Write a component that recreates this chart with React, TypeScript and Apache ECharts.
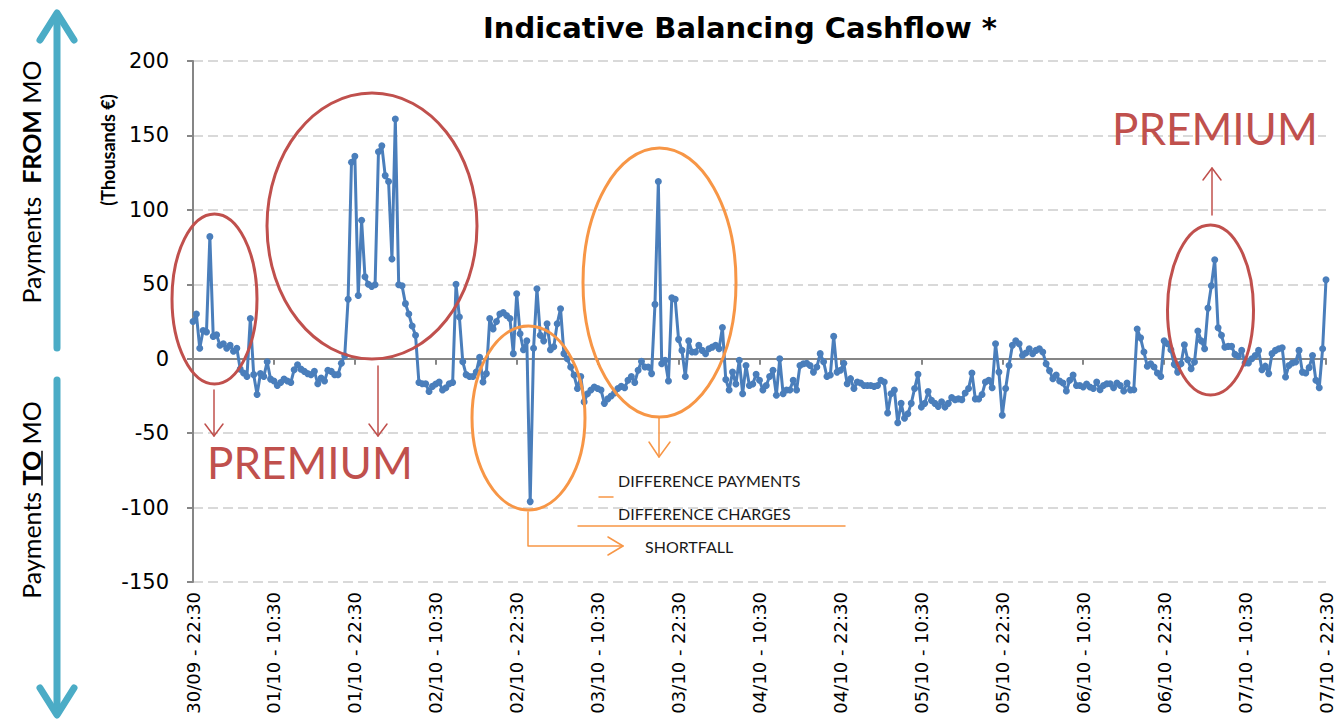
import React, { useEffect, useRef } from "react";
import * as echarts from "echarts";

const tickLabels = [
  "30/09 - 22:30", "01/10 - 10:30", "01/10 - 22:30", "02/10 - 10:30", "02/10 - 22:30",
  "03/10 - 10:30", "03/10 - 22:30", "04/10 - 10:30", "04/10 - 22:30", "05/10 - 10:30",
  "05/10 - 22:30", "06/10 - 10:30", "06/10 - 22:30", "07/10 - 10:30", "07/10 - 22:30",
];

const dayNames = ["30/09", "01/10", "02/10", "03/10", "04/10", "05/10", "06/10", "07/10"];

// Half-hourly indicative balancing cashflow (thousands €)
const cashflow = [
  25, 30, 7, 19, 18, 82, 15, 16, 9, 10,
  7, 9, 5, 7, -7, -9.6, -12, 27, -10.7, -24,
  -10, -12, -2, -13.7, -15, -18, -16, -13.7, -15, -16,
  -7.4, -4, -7, -8.5, -10, -10.7, -8.5, -16.8, -13, -15,
  -7.8, -8.5, -10.7, -10.7, -3, 2, 40, 132, 136, 42.5,
  93, 55, 50, 48.6, 49.7, 139, 143, 123, 119, 67,
  161, 49.7, 49, 37, 30, 22, 15.7, -16, -16.8, -16.8,
  -22, -18.6, -17, -15.7, -21, -19.5, -16.8, -16, 50, 28,
  -2, -10.7, -12, -12, -9, 1, -15.7, -10, 27, 20,
  25, 30, 31, 29, 27, 3.4, 43.7, 16.8, 6, 12,
  -96, 7, 47, 15.7, 12, 23.5, 6, 8, 23.5, 33.6,
  3.4, 0, -5.6, -11, -20, -12, -29, -23.5, -21, -19,
  -20, -21, -30, -27, -25, -23, -20, -18.6, -19.5, -14.5,
  -12, -16, -7.8, -1.8, -5.6, -5.6, -10, 36.5, 119, -3.4,
  -1, -15, 41, 40, 13, 5.6, -12, 12, 4.5, 4.5,
  9, 5.6, 3.4, 6.7, 7.8, 9, 6.7, 21, -14, -21,
  -9, -17, -1, -23.5, -4.5, -18, -17, -10.5, -14.5, -21,
  -18, -12, -7.8, -24.6, 0, -23.5, -21, -21, -14.5, -21,
  -4.5, -3.4, -3, -4.5, -9, -5.6, 3.4, -2, -12, -11,
  15, -9, -7.8, -3, -16.8, -13.4, -20, -15.7, -16.3, -18,
  -18, -18, -18.6, -18, -14.5, -15.7, -36.5, -23.5, -21, -43,
  -30, -40, -37, -30, -20, -10.5, -32.5, -30, -22, -28,
  -30, -32, -29, -32.5, -30, -26, -27.5, -27, -27.5, -23,
  -20, -9.6, -27, -27, -24, -15.7, -14.5, -19.5, 10, -9,
  -38, -20, -4.5, 9, 12, 10, 2.2, 3.8, 6.7, 3.4,
  5.6, 6.7, 4.5, -3.4, -8, -13.4, -11, -15, -16.3, -21.7,
  -14.5, -11, -18, -18, -19, -17, -19, -20, -15.7, -20.8,
  -18, -16.8, -16.8, -19.5, -16.3, -18, -21.7, -16.3, -21, -20.8,
  20, 14, 4.5, -5, -3.4, -5.6, -9.6, -12, 12, 10,
  6, -3.8, -9, -3.4, 9.4, -0.7, -6.7, -2.2, 18.6, 12,
  6.7, 34, 49, 66.5, 20.8, 15.7, 7.8, 8.3, 8.3, 2.9,
  1.6, 5.6, -2.9, -2.9, 0, 2.2, 5.6, -7.4, -5, -10,
  3.4, 5.6, 6.7, 7.4, -12.3, -4.5, -2.9, -2.2, 5.6, -9,
  -9.6, -6, 2.2, -14.5, -19.5, 6.7, 53,
];

const pad = (n: number) => (n < 10 ? "0" + n : String(n));
const categories = cashflow.map((_, i) => {
  const mins = 22 * 60 + 30 + 30 * i;
  const d = Math.floor(mins / 1440);
  const m = mins % 1440;
  return `${dayNames[d]} - ${pad(Math.floor(m / 60))}:${pad(m % 60)}`;
});

const RED = "#c0504d";
const ORANGE = "#f79646";
const CYAN = "#4bacc6";
const BLUE = "#4a7ebb";

export default function App() {
  const ref = useRef<HTMLDivElement>(null);
  useEffect(() => {
    if (!ref.current) return;
    const chart = echarts.init(ref.current, undefined, { renderer: "svg" });
    const ctx = document.createElement("canvas").getContext("2d")!;
    const measure = (t: string, font: string) => {
      ctx.font = font;
      return ctx.measureText(t).width;
    };
    const SIDE_FONT = "25px Lato";
    const SIDE_BOLD = "bold 25px Lato";
    const wP = measure("Payments ", SIDE_FONT);
    const wT = measure("TO", SIDE_BOLD);
    const wM = measure(" MO", SIDE_FONT);
    const toCenterY = 500;
    const toStart = toCenterY + (wP + wT + wM) / 2;
    const ulY1 = toStart - wP;
    const ulY2 = ulY1 - wT;

    const ell = (cx: number, cy: number, rx: number, ry: number, color: string) => ({
      type: "ellipse",
      z: 100,
      shape: { cx, cy, rx, ry },
      style: { fill: "none", stroke: color, lineWidth: 3 },
    });
    const pl = (points: number[][], color: string, w: number) => ({
      type: "polyline",
      z: 100,
      shape: { points },
      style: { fill: "none", stroke: color, lineWidth: w, lineCap: "round", lineJoin: "round" },
    });
    const premium = (x: number, y: number) => ({
      type: "text",
      z: 101,
      x,
      y,
      style: {
        text: "PREMIUM",
        fill: "#c0504d",
        font: "44px Lato",
        align: "left",
        verticalAlign: "middle",
        shadowColor: "rgba(235,130,130,1)",
        shadowBlur: 8,
      },
    });
    const note = (x: number, y: number, text: string) => ({
      type: "text",
      z: 101,
      x,
      y,
      style: {
        text,
        fill: "#1a1a1a",
        font: "16px Lato",
        align: "left",
        verticalAlign: "middle",
        shadowColor: "rgba(247,150,70,0.9)",
        shadowBlur: 3,
      },
    });
    chart.setOption({
      animation: false,
      grid: { left: 193, right: 10, top: 61, bottom: 146 },
      xAxis: [
        {
          type: "category",
          data: categories,
          boundaryGap: false,
          axisLine: { show: false, onZero: false },
          axisTick: { show: false },
          splitLine: { show: false },
          axisLabel: {
            interval: 23,
            rotate: 90,
            margin: 10,
            color: "#000",
            fontSize: 18,
            fontFamily: "DejaVu Sans",
            formatter: (_v: string, idx: number) => tickLabels[Math.round(idx / 24)] ?? "",
          },
        },
        {
          type: "category",
          data: categories,
          boundaryGap: false,
          position: "bottom",
          axisLine: { show: true, onZero: true, lineStyle: { color: "#868686", width: 2 } },
          axisTick: { show: true, interval: 23, length: 6, lineStyle: { color: "#868686", width: 2 } },
          axisLabel: { show: false },
          splitLine: { show: false },
        },
      ],
      yAxis: {
        type: "value",
        min: -150,
        max: 200,
        interval: 50,
        axisLine: { show: true, lineStyle: { color: "#868686", width: 2 } },
        axisTick: { show: true, length: 6, lineStyle: { color: "#868686", width: 2 } },
        axisLabel: { color: "#000", fontSize: 21, fontFamily: "DejaVu Sans", margin: 24 },
        splitLine: { show: true, lineStyle: { color: "#d9d9d9", width: 2, type: [10, 5] } },
      },
      series: [
        {
          type: "line",
          xAxisIndex: 0,
          data: cashflow,
          showAllSymbol: true,
          symbol: "circle",
          symbolSize: 7,
          itemStyle: { color: BLUE },
          lineStyle: { color: BLUE, width: 3 },
          z: 10,
        },
      ],
      graphic: [
        {
          type: "text",
          x: 740,
          y: 28,
          style: {
            text: "Indicative Balancing Cashflow *",
            font: "bold 29px 'DejaVu Sans'",
            fill: "#000",
            align: "center",
            verticalAlign: "middle",
          },
        },
        {
          type: "text",
          x: 108,
          y: 150,
          rotation: Math.PI / 2,
          style: {
            text: "(Thousands €)",
            font: "bold 18px Lato",
            fill: "#000",
            align: "center",
            verticalAlign: "middle",
          },
        },
        {
          type: "text",
          x: 31,
          y: 182,
          rotation: Math.PI / 2,
          style: {
            text: "{n|Payments  }{b|FROM}{n| MO}",
            align: "center",
            verticalAlign: "middle",
            rich: {
              n: { font: SIDE_FONT, fill: "#000" },
              b: { font: SIDE_BOLD, fill: "#000" },
            },
          },
        },
        {
          type: "text",
          x: 31,
          y: toCenterY,
          rotation: Math.PI / 2,
          style: {
            text: "{n|Payments }{b|TO}{n| MO}",
            align: "center",
            verticalAlign: "middle",
            rich: {
              n: { font: SIDE_FONT, fill: "#000" },
              b: { font: SIDE_BOLD, fill: "#000" },
            },
          },
        },
        {
          type: "line",
          z: 100,
          shape: { x1: 42, y1: ulY1, x2: 42, y2: ulY2 },
          style: { stroke: "#000", lineWidth: 1.5 },
        },
        // cyan double arrows
        pl([[57, 16], [57, 348]], CYAN, 7),
        pl([[40, 40], [57, 13], [74, 40]], CYAN, 7),
        pl([[57, 380], [57, 712]], CYAN, 7),
        pl([[40, 688], [57, 715], [74, 688]], CYAN, 7),
        // ellipses
        ell(214.5, 299, 42.5, 85, RED),
        ell(372, 226, 105, 133, RED),
        ell(528.5, 418, 56.5, 92, ORANGE),
        ell(659.5, 282.5, 76.5, 134.5, ORANGE),
        ell(1210.5, 310, 43, 85, RED),
        // red arrows
        pl([[214, 390], [214, 436]], RED, 1.5),
        pl([[205, 424], [214, 436], [223, 424]], RED, 1.5),
        pl([[378, 366], [378, 436]], RED, 1.5),
        pl([[369, 424], [378, 436], [387, 424]], RED, 1.5),
        pl([[1212, 215], [1212, 168]], RED, 1.5),
        pl([[1203, 180], [1212, 168], [1221, 180]], RED, 1.5),
        // orange arrows / lines
        pl([[659, 418], [659, 457]], ORANGE, 1.5),
        pl([[649, 442], [659, 457], [670, 442]], ORANGE, 1.5),
        pl([[528, 512], [528, 546], [623, 546]], ORANGE, 1.5),
        pl([[608, 537], [623, 546], [608, 555]], ORANGE, 1.5),
        pl([[599, 497], [613, 497]], ORANGE, 1.5),
        pl([[578, 526], [845, 526]], ORANGE, 1.5),
        premium(207, 462),
        premium(1112, 128),
        note(618, 480, "DIFFERENCE PAYMENTS"),
        note(618, 513, "DIFFERENCE CHARGES"),
        note(645, 546, "SHORTFALL"),
      ],
    });
    return () => chart.dispose();
  }, []);
  return (
    <div
      ref={ref}
      style={{ position: "fixed", left: 0, top: 0, width: 1336, height: 728, background: "#fff" }}
    />
  );
}
